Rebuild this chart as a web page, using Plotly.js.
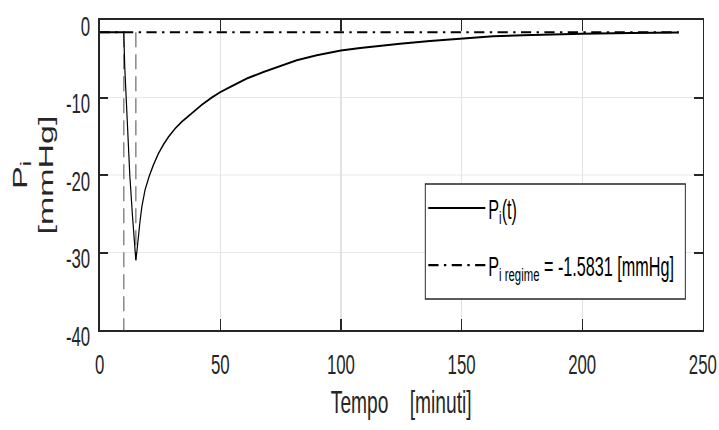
<!DOCTYPE html>
<html>
<head>
<meta charset="utf-8">
<script src="https://cdn.plot.ly/plotly-3.0.1.min.js"></script>
<style>
html, body { margin: 0; padding: 0; width: 719px; height: 430px; overflow: hidden; background: #fff; }
#chart { width: 1198px; height: 430px; transform: scaleX(0.6002); transform-origin: 0 0; }
</style>
</head>
<body>
<div id="chart"></div>
<script>
// Time (minutes) and internal pressure P_i(t) [mmHg]
const timeMin = [0, 10, 10.4, 10.85, 11.5, 12.5, 13.6, 15, 15.5, 16, 16.8, 17.5, 18.8, 20.5, 22.3, 24.4, 26.4, 28.5, 31.3, 34, 38.2, 42.3, 46.5, 50, 54.1, 61, 67.9, 74.8, 81.7, 90, 100, 108, 112, 124.5, 136.9, 150, 163.1, 175.4, 187.9, 200, 220, 240];
const pressure = [-1.58, -1.58, -6, -9, -13.2, -20, -25.2, -31, -29.7, -28, -25.8, -24.1, -21.95, -20.2, -18.7, -17.2, -16.1, -15.1, -14.0, -13.15, -12.0, -10.95, -10.0, -9.3, -8.64, -7.55, -6.7, -5.93, -5.2, -4.55, -3.95, -3.6, -3.45, -3.05, -2.71, -2.4, -2.1, -1.97, -1.82, -1.76, -1.68, -1.62];

// Steady-state value
const regimeValue = -1.5831;
const regimeSpan = [0, 240];

// Vertical dashed markers
const markerTimes = [10, 15];
const markerBottoms = [-40, -31];

// Tick values
const xTicks = [0, 50, 100, 150, 200, 250];
const yTicks = [-40, -30, -20, -10, 0];

const FONT = 'Liberation Sans, Arial, Helvetica, sans-serif';
const AX = '#262626';

// build marker line trace (segments separated by null)
const mx = [], my = [];
markerTimes.forEach((t, i) => { mx.push(t, t, null); my.push(regimeValue, markerBottoms[i], null); });

const traces = [
  {
    x: mx, y: my, mode: 'lines', showlegend: false, hoverinfo: 'skip',
    line: { color: '#8c8c8c', width: 2.6, dash: '15px,7px' }
  },
  {
    x: timeMin, y: pressure, mode: 'lines',
    name: 'P<sub>i</sub>(t)', legendgroup: 'a',
    line: { color: '#000', width: 2 }
  },
  {
    x: regimeSpan, y: regimeSpan.map(() => regimeValue), mode: 'lines',
    name: 'P<sub>i regime</sub> = -1.5831 [mmHg]', legendgroup: 'b',
    line: { color: '#000', width: 2.2, dash: '17px,9px,4px,9px' }
  }
];

const layout = {
  width: 1198, height: 430,
  margin: { l: 166, r: 27, t: 20, b: 100 },
  paper_bgcolor: '#fff', plot_bgcolor: '#fff',
  font: { family: FONT, color: AX },
  showlegend: true,
  legend: {
    x: 0.5399, y: 0.471, xanchor: 'left', yanchor: 'top',
    bgcolor: 'rgba(0,0,0,0)', borderwidth: 0,
    font: { family: FONT, size: 27, color: '#000' },
    itemwidth: 95, tracegroupgap: 19, traceorder: 'grouped'
  },
  shapes: [
    { type: 'rect', xref: 'paper', yref: 'paper', x0: 0.5399, x1: 0.9710, y0: 0.1, y1: 0.471,
      fillcolor: '#fff', line: { color: AX, width: 1.6 }, layer: 'above' }
  ],
  xaxis: {
    range: [0, 250], tickvals: xTicks, ticktext: xTicks.map(String),
    showgrid: true, gridcolor: '#e2e2e2', gridwidth: 1.6,
    zeroline: false, showline: true, linecolor: AX, linewidth: 2, mirror: 'ticks',
    ticks: 'inside', ticklen: 11, tickwidth: 1.6, tickcolor: AX,
    tickfont: { family: FONT, size: 28, color: AX },
    ticklabelstandoff: 8,
    title: { text: 'Tempo&nbsp;&nbsp;&nbsp;&nbsp;[minuti]', font: { family: FONT, size: 32, color: AX }, standoff: 12 }
  },
  yaxis: {
    range: [-40, 0], tickvals: yTicks, ticktext: yTicks.map(String),
    showgrid: true, gridcolor: '#e2e2e2', gridwidth: 1.2,
    zeroline: false, showline: true, linecolor: AX, linewidth: 2.2, mirror: 'ticks',
    ticks: 'inside', ticklen: 14, tickwidth: 1.5, tickcolor: AX,
    tickfont: { family: FONT, size: 28, color: AX },
    ticklabelstandoff: 8, ticklabelshift: 6,
    title: { text: 'P<sub>i</sub><br>[mmHg]', font: { family: FONT, size: 34, color: AX }, standoff: 10 }
  }
};

Plotly.newPlot('chart', traces, layout, { displayModeBar: false, responsive: false });
</script>
</body>
</html>
